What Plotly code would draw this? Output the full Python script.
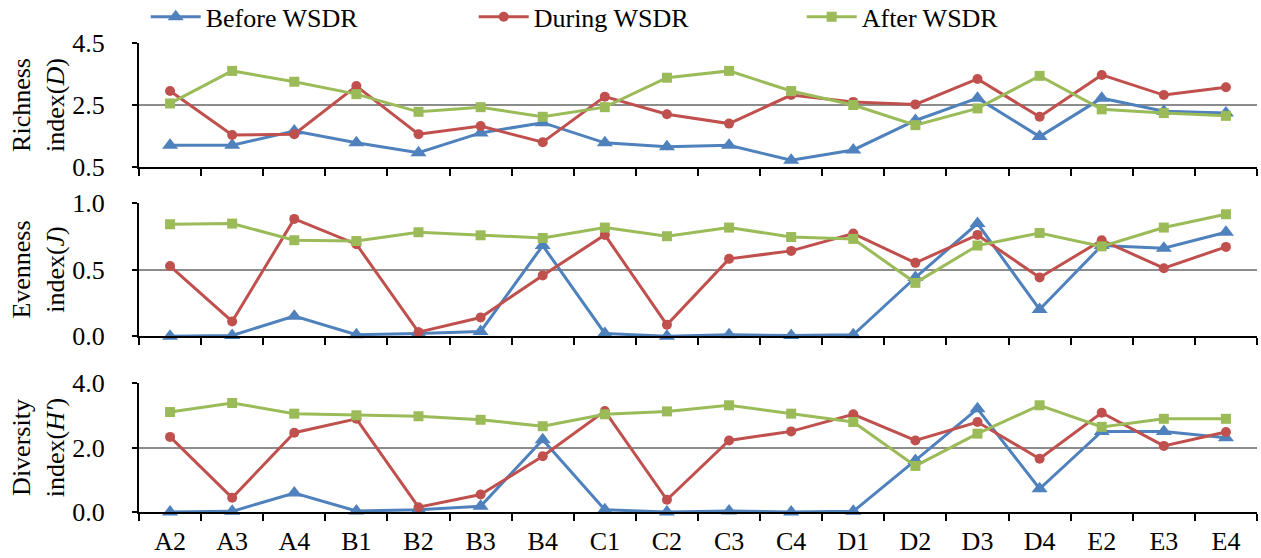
import plotly.graph_objects as go
from plotly.subplots import make_subplots

categories = ["A2", "A3", "A4", "B1", "B2", "B3", "B4", "C1", "C2", "C3", "C4",
              "D1", "D2", "D3", "D4", "E2", "E3", "E4"]
series_names = ["Before WSDR", "During WSDR", "After WSDR"]

richness_before = [1.20, 1.20, 1.66, 1.28, 0.96, 1.60, 1.93, 1.28, 1.15, 1.20, 0.72,
                   1.05, 2.00, 2.72, 1.48, 2.72, 2.30, 2.24]
richness_during = [2.95, 1.53, 1.56, 3.11, 1.56, 1.82, 1.30, 2.77, 2.20, 1.90, 2.82,
                   2.60, 2.52, 3.34, 2.12, 3.47, 2.82, 3.07]
richness_after = [2.55, 3.60, 3.25, 2.85, 2.28, 2.43, 2.12, 2.43, 3.38, 3.60, 2.95,
                  2.50, 1.85, 2.39, 3.44, 2.36, 2.24, 2.15]

evenness_before = [0.00, 0.005, 0.15, 0.01, 0.02, 0.035, 0.68, 0.02, 0.00, 0.01, 0.005,
                   0.01, 0.44, 0.845, 0.20, 0.68, 0.66, 0.78]
evenness_during = [0.526, 0.11, 0.88, 0.69, 0.03, 0.14, 0.456, 0.76, 0.085, 0.58, 0.64,
                   0.77, 0.55, 0.76, 0.44, 0.72, 0.51, 0.67]
evenness_after = [0.84, 0.845, 0.72, 0.714, 0.78, 0.757, 0.737, 0.815, 0.75, 0.815, 0.744,
                  0.73, 0.40, 0.68, 0.774, 0.674, 0.815, 0.915]

diversity_before = [0.00, 0.02, 0.59, 0.03, 0.07, 0.18, 2.24, 0.07, 0.00, 0.03, 0.00,
                    0.02, 1.60, 3.20, 0.72, 2.50, 2.50, 2.30]
diversity_during = [2.33, 0.44, 2.46, 2.89, 0.15, 0.54, 1.73, 3.13, 0.38, 2.22, 2.50,
                    3.03, 2.22, 2.79, 1.65, 3.08, 2.05, 2.48]
diversity_after = [3.10, 3.38, 3.05, 3.00, 2.97, 2.86, 2.66, 3.03, 3.12, 3.31, 3.05,
                   2.79, 1.43, 2.43, 3.31, 2.64, 2.89, 2.89]

colors = ["#4F81BD", "#C0504D", "#9BBB59"]
symbols = ["triangle-up", "circle", "square"]
msizes = [14, 10, 10]
FONT = "Liberation Serif"
FS = 26

panels = [
    (richness_before, richness_during, richness_after),
    (evenness_before, evenness_during, evenness_after),
    (diversity_before, diversity_during, diversity_after),
]

fig = make_subplots(rows=3, cols=1, shared_xaxes=True)

for r, data in enumerate(panels, start=1):
    for i, ys in enumerate(data):
        fig.add_trace(go.Scatter(
            x=categories, y=ys, mode="lines+markers", name=series_names[i],
            line=dict(color=colors[i], width=3),
            marker=dict(symbol=symbols[i], size=msizes[i], color=colors[i]),
            showlegend=(r == 1), cliponaxis=False,
        ), row=r, col=1)

yaxes_cfg = [
    dict(range=[0.5, 4.5], tickvals=[0.5, 2.5, 4.5], title="Richness<br>index(<i>D</i>)"),
    dict(range=[0.0, 1.0], tickvals=[0.0, 0.5, 1.0], title="Evenness<br>index(<i>J</i>)"),
    dict(range=[0.0, 4.0], tickvals=[0.0, 2.0, 4.0], title="Diversity<br>index(<i>H'</i>)"),
]
domains = [[0.7356, 1.0], [0.375, 0.659], [0.0, 0.275]]

for r in range(1, 4):
    cfg = yaxes_cfg[r - 1]
    fig.update_yaxes(
        range=cfg["range"], tickvals=cfg["tickvals"], tickformat=".1f",
        domain=domains[r - 1], automargin=False,
        title=dict(text=cfg["title"], font=dict(family=FONT, size=FS, color="black"), standoff=0),
        showline=True, linecolor="black", linewidth=2,
        ticks="outside", ticklen=5, tickwidth=2, tickcolor="black",
        ticklabelstandoff=22,
        showgrid=True, gridcolor="#8c8c8c", gridwidth=1.5,
        zeroline=False,
        tickfont=dict(family=FONT, size=FS, color="black"),
        row=r, col=1,
    )
    fig.update_xaxes(
        type="category", range=[-0.5, 17.5], automargin=False,
        showline=True, linecolor="black", linewidth=2,
        ticks="outside", ticklen=7, tickwidth=2, tickcolor="black",
        ticklabelstandoff=5,
        tickson="boundaries", showgrid=False, zeroline=False,
        showticklabels=(r == 3),
        tickfont=dict(family=FONT, size=FS, color="black"),
        row=r, col=1,
    )

fig.update_layout(
    width=1261, height=558,
    margin=dict(l=139, r=4, t=43, b=46, autoexpand=False),
    plot_bgcolor="white", paper_bgcolor="white",
    font=dict(family=FONT, size=FS, color="black"),
    legend=dict(
        orientation="h", x=0.006, y=1.106, xanchor="left", yanchor="top",
        entrywidth=263, entrywidthmode="pixels",
        font=dict(family=FONT, size=FS, color="black"),
        bgcolor="rgba(0,0,0,0)", itemwidth=50,
        tracegroupgap=0,
    ),
)

fig.write_html(
    "out.html",
    config={"displayModeBar": False},
    post_script="document.body.style.margin='0';document.body.style.overflow='hidden';",
)
